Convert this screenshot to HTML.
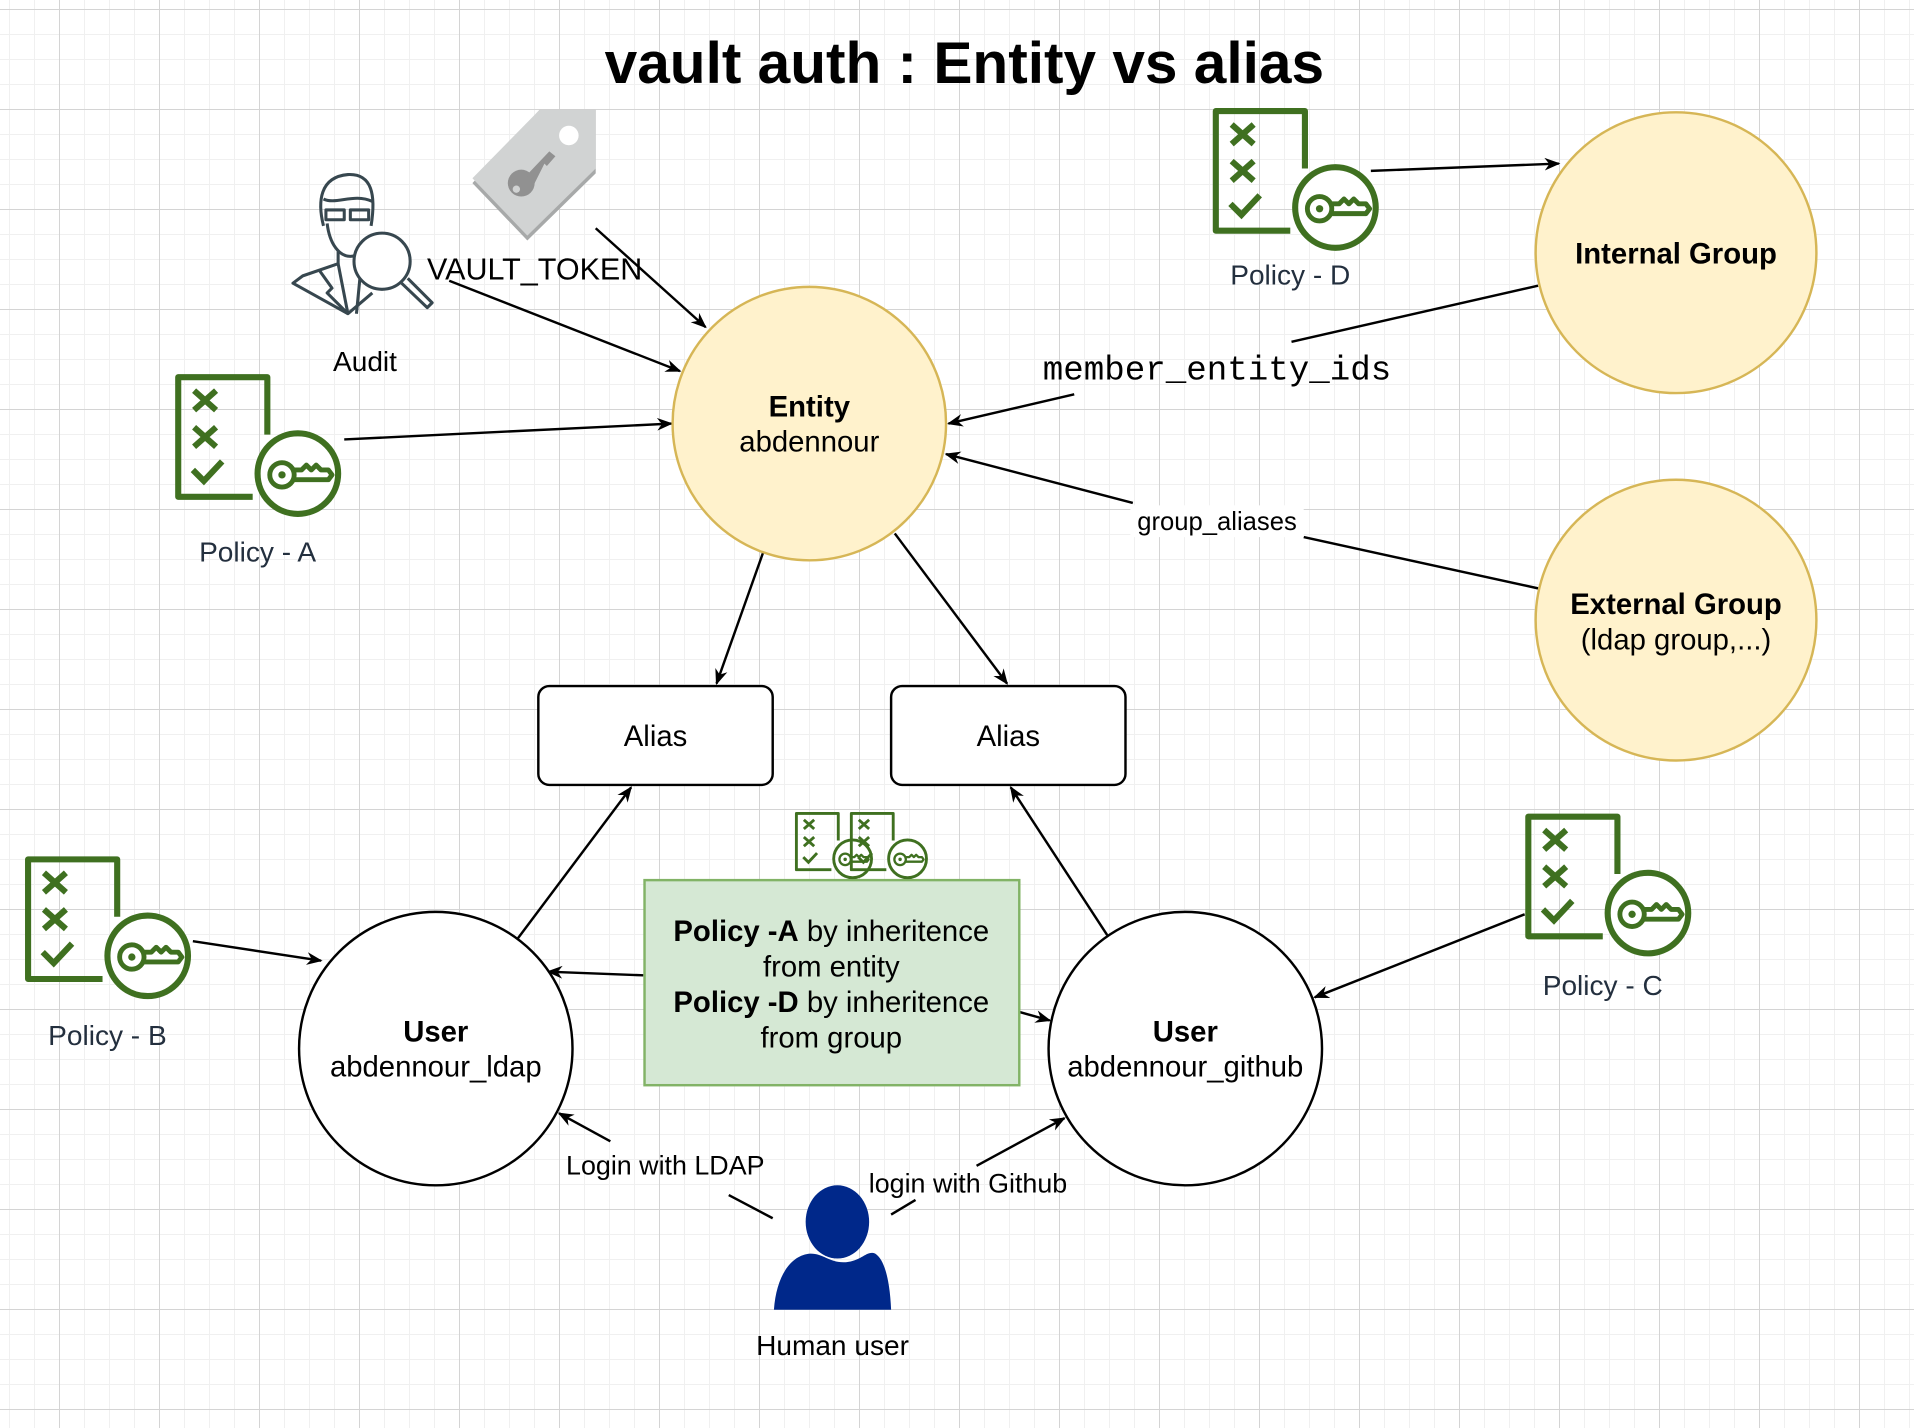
<!DOCTYPE html>
<html><head><meta charset="utf-8"><style>
html,body{margin:0;padding:0;background:#fff;}
svg{display:block;}
text{font-family:"Liberation Sans",Arial,sans-serif;fill:#000;}
</style></head><body>
<svg width="1914" height="1428" viewBox="0 0 1914 1428" xmlns="http://www.w3.org/2000/svg">
<defs>
<pattern id="minor" x="9" y="9" width="25" height="25" patternUnits="userSpaceOnUse">
<path d="M0 0.5H25M0.5 0V25" stroke="#f0f0f0" stroke-width="1" fill="none"/>
</pattern>
<pattern id="major" x="59" y="9" width="100" height="100" patternUnits="userSpaceOnUse">
<path d="M0 0.5H100M0.5 0V100" stroke="#d4d4d4" stroke-width="1" fill="none"/>
</pattern>
<marker id="ar" viewBox="0 0 10 10" refX="9" refY="5" markerWidth="13" markerHeight="13" orient="auto-start-reverse" markerUnits="userSpaceOnUse">
<path d="M0 1L10 5L0 9L3 5Z" fill="#000"/>
</marker>
<g id="pol">
<path d="M64 101H3V3H76V50" fill="none" stroke="#3f7020" stroke-width="5" stroke-linejoin="round"/>
<path d="M16 14L34 30M34 14L16 30M16 44L34 60M34 44L16 60M15 79L24 88L39 72" fill="none" stroke="#3f7020" stroke-width="5"/>
<circle cx="101" cy="82" r="33" fill="#fff" stroke="#3f7020" stroke-width="5"/>
<circle cx="88" cy="83" r="10" fill="none" stroke="#3f7020" stroke-width="4"/>
<circle cx="88" cy="83" r="3" fill="#3f7020"/>
<path d="M98 79H104L108 75L112 79L116 75L120 79L126 79L129 83L126 87H98" fill="none" stroke="#3f7020" stroke-width="4" stroke-linejoin="round"/>
</g>
</defs>
<rect width="1914" height="1428" fill="#fff"/>
<rect width="1914" height="1428" fill="url(#minor)"/>
<rect width="1914" height="1428" fill="url(#major)"/>

<g transform="scale(1.2207)">
<text x="790" y="68" font-size="48" font-weight="bold" text-anchor="middle">vault auth : Entity vs alias</text>

<!-- tag icon -->
<polygon points="442,90 488,90 488,142 432,197 387,150" fill="#a7a9a9"/>
<polygon points="442,90 488,90 488,138 432,193 387,146" fill="#d1d3d3"/>
<circle cx="466" cy="111" r="8" fill="#fff"/>
<circle cx="427" cy="150" r="11" fill="#919191"/>
<circle cx="423" cy="155" r="3" fill="#d1d3d3"/>
<path d="M431 144L450 124L455 128L448 136L446 134L438 150Z" fill="#919191"/>

<!-- audit icon -->
<g fill="none" stroke="#37474f" stroke-width="2.5" stroke-linejoin="round">
<path d="M265 185C260 165 262 145 285 143C305 142 308 160 304 185"/>
<path d="M265 163C275 168 290 158 305 165"/>
<rect x="267" y="172" width="15" height="8"/><rect x="287" y="172" width="15" height="8"/>
<path d="M268 183C270 200 278 210 287 210C294 210 300 203 302 196"/>
<path d="M277 206L277 216L248 226L240 232L285 257L305 240"/>
<path d="M277 216L285 257M262 222L272 236L268 240L285 257M296 216L292 257"/>
<circle cx="313" cy="214" r="23" fill="#fff"/>
<path d="M329 232L350 252L354 248L334 228"/>
</g>

<!-- connectors -->
<g stroke="#000" stroke-width="2" fill="none">
<path d="M488 187L578 268" marker-end="url(#ar)"/>
<path d="M368 230L557 304" marker-end="url(#ar)"/>
<path d="M282 360L550 347" marker-end="url(#ar)"/>
<path d="M1123 140L1277 134" marker-end="url(#ar)"/>
<path d="M1260 234L1058 280"/>
<path d="M880 323L777 347" marker-end="url(#ar)"/>
<path d="M1260 482L1068 440"/>
<path d="M928 412L775 372" marker-end="url(#ar)"/>
<path d="M625 453L587 560" marker-end="url(#ar)"/>
<path d="M733 437L825 560" marker-end="url(#ar)"/>
<path d="M424 769L517 645" marker-end="url(#ar)"/>
<path d="M907 766L828 645" marker-end="url(#ar)"/>
<path d="M158 771L263 787" marker-end="url(#ar)"/>
<path d="M1249 749L1077 817" marker-end="url(#ar)"/>
<path d="M527 799L449 796" marker-end="url(#ar)"/>
<path d="M835 829L860 836" marker-end="url(#ar)"/>
<path d="M633 998L597 979"/>
<path d="M500 935L458 912" marker-end="url(#ar)"/>
<path d="M730 995L750 983"/>
<path d="M800 955L872 916" marker-end="url(#ar)"/>
</g>

<text x="438" y="229" font-size="25" text-anchor="middle">VAULT_TOKEN</text>
<text x="299" y="304" font-size="23" text-anchor="middle">Audit</text>
<text x="997" y="311" font-size="28" text-anchor="middle" style="font-family:'Liberation Mono',monospace">member_entity_ids</text>
<rect x="926" y="414" width="142" height="26" fill="#fff"/>
<text x="997" y="434" font-size="21" text-anchor="middle">group_aliases</text>
<text x="545" y="962" font-size="22" text-anchor="middle">Login with LDAP</text>
<text x="793" y="977" font-size="22" text-anchor="middle">login with Github</text>

<!-- circles -->
<circle cx="663" cy="347" r="112" fill="#fff2cc" stroke="#d6b656" stroke-width="2"/>
<text x="663" y="341" font-size="24" font-weight="bold" text-anchor="middle">Entity</text>
<text x="663" y="370" font-size="24" text-anchor="middle">abdennour</text>
<circle cx="1373" cy="207" r="115" fill="#fff2cc" stroke="#d6b656" stroke-width="2"/>
<text x="1373" y="216" font-size="24" font-weight="bold" text-anchor="middle">Internal Group</text>
<circle cx="1373" cy="508" r="115" fill="#fff2cc" stroke="#d6b656" stroke-width="2"/>
<text x="1373" y="503" font-size="24" font-weight="bold" text-anchor="middle">External Group</text>
<text x="1373" y="532" font-size="24" text-anchor="middle">(ldap group,...)</text>

<rect x="441" y="562" width="192" height="81" rx="9" fill="#fff" stroke="#000" stroke-width="2"/>
<text x="537" y="611" font-size="24" text-anchor="middle">Alias</text>
<rect x="730" y="562" width="192" height="81" rx="9" fill="#fff" stroke="#000" stroke-width="2"/>
<text x="826" y="611" font-size="24" text-anchor="middle">Alias</text>

<circle cx="357" cy="859" r="112" fill="#fff" stroke="#000" stroke-width="2"/>
<text x="357" y="853" font-size="24" font-weight="bold" text-anchor="middle">User</text>
<text x="357" y="882" font-size="24" text-anchor="middle">abdennour_ldap</text>
<circle cx="971" cy="859" r="112" fill="#fff" stroke="#000" stroke-width="2"/>
<text x="971" y="853" font-size="24" font-weight="bold" text-anchor="middle">User</text>
<text x="971" y="882" font-size="24" text-anchor="middle">abdennour_github</text>

<rect x="528" y="721" width="307" height="168" fill="#d5e8d4" stroke="#82b366" stroke-width="2"/>
<g font-size="24" text-anchor="middle">
<text x="681" y="771"><tspan font-weight="bold">Policy -A</tspan> by inheritence</text>
<text x="681" y="800">from entity</text>
<text x="681" y="829"><tspan font-weight="bold">Policy -D</tspan> by inheritence</text>
<text x="681" y="858">from group</text>
</g>

<!-- policies -->
<use href="#pol" x="143" y="306"/>
<text x="211" y="460" font-size="23" text-anchor="middle" style="fill:#232f3e">Policy - A</text>
<use href="#pol" x="993" y="88"/>
<text x="1057" y="233" font-size="23" text-anchor="middle" style="fill:#232f3e">Policy - D</text>
<use href="#pol" x="20" y="701"/>
<text x="88" y="856" font-size="23" text-anchor="middle" style="fill:#232f3e">Policy - B</text>
<use href="#pol" x="1249" y="666"/>
<text x="1313" y="815" font-size="23" text-anchor="middle" style="fill:#232f3e">Policy - C</text>
<use href="#pol" transform="translate(651,665) scale(0.47)"/>
<use href="#pol" transform="translate(696,665) scale(0.47)"/>

<!-- human -->
<ellipse cx="686" cy="1001" rx="26" ry="30" fill="#00288a"/>
<path d="M634 1073C636 1045 648 1028 664 1027C675 1027 680 1035 693 1034C706 1033 710 1024 717 1027C725 1032 729 1050 730 1073Z" fill="#00288a"/>
<text x="682" y="1110" font-size="23" text-anchor="middle">Human user</text>
</g>
</svg>
</body></html>
